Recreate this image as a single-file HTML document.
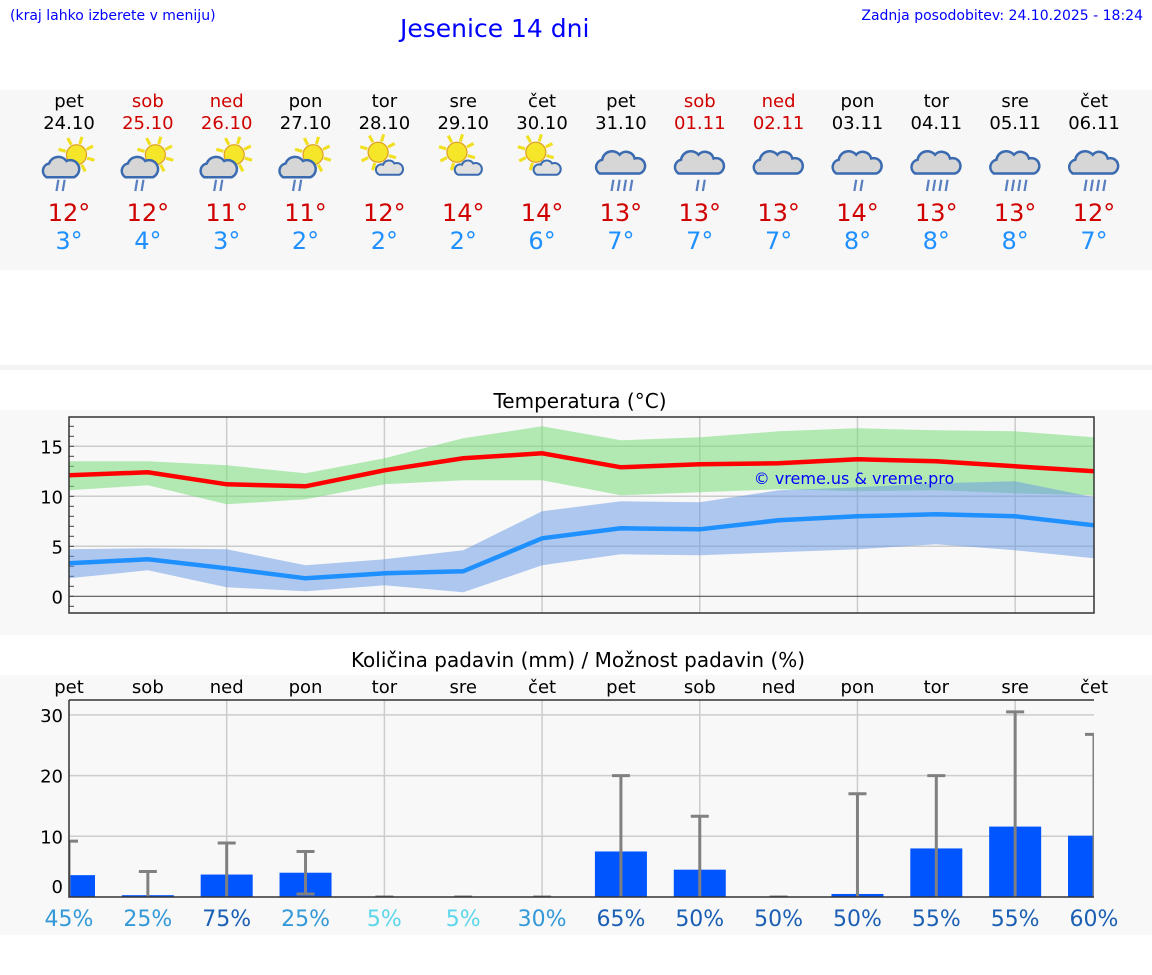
<!DOCTYPE html>
<html><head><meta charset="utf-8">
<style>
body{margin:0;width:1152px;height:975px;background:#fff;font-family:"DejaVu Sans","Liberation Sans",sans-serif;position:relative;overflow:hidden}
.abs{position:absolute}
</style></head>
<body>
<div class="abs" style="left:10px;top:8px;font-size:14px;color:#00f">(kraj lahko izberete v meniju)</div>
<div class="abs" style="left:400px;top:14px;font-size:25px;color:#00f">Jesenice 14 dni</div>
<div class="abs" style="right:9px;top:8px;font-size:14px;color:#00f">Zadnja posodobitev: 24.10.2025 - 18:24</div>
<div class="abs" style="left:0;top:90px;width:1152px;height:180px;background:#f7f7f7"></div>
<div class="abs" style="left:0;top:365px;width:1152px;height:5px;background:#f3f3f3"></div>
<div class="abs" style="left:0;top:410px;width:1152px;height:225px;background:#f8f8f8"></div>
<div class="abs" style="left:0;top:675px;width:1152px;height:260px;background:#f8f8f8"></div>
<svg id="svg" class="abs" style="left:0;top:0" width="1152" height="975"></svg>
<script>
const days=["pet","sob","ned","pon","tor","sre","čet","pet","sob","ned","pon","tor","sre","čet"];
const dates=["24.10","25.10","26.10","27.10","28.10","29.10","30.10","31.10","01.11","02.11","03.11","04.11","05.11","06.11"];
const weekend=[0,1,1,0,0,0,0,0,1,1,0,0,0,0];
const iconType=[0,0,0,0,1,1,1,2,2,3,2,2,2,2];
const iconDrops=[2,2,2,2,0,0,0,4,2,0,2,4,4,4];
const tMax=[12,12,11,11,12,14,14,13,13,13,14,13,13,12];
const tMin=[3,4,3,2,2,2,6,7,7,7,8,8,8,7];
const maxLine=[12.1,12.4,11.2,11.0,12.6,13.8,14.3,12.9,13.2,13.3,13.7,13.5,13.0,12.5];
const maxHi=[13.5,13.5,13.1,12.3,13.8,15.8,17.0,15.6,15.9,16.5,16.8,16.6,16.5,15.9];
const maxLo=[10.6,11.1,9.2,9.7,11.2,11.6,11.6,10.1,10.4,10.7,10.5,10.6,10.3,10.1];
const minLine=[3.3,3.7,2.8,1.8,2.3,2.5,5.8,6.8,6.7,7.6,8.0,8.2,8.0,7.1];
const minHi=[4.7,4.8,4.7,3.1,3.7,4.6,8.5,9.5,9.4,10.6,10.9,11.3,11.5,9.9];
const minLo=[1.8,2.6,0.9,0.5,1.1,0.4,3.1,4.2,4.1,4.4,4.7,5.2,4.6,3.8];
const tempTicks=[0,5,10,15];
const precip=[3.6,0.3,3.7,4.0,0,0,0,7.5,4.5,0,0.5,8.0,11.6,10.1];
const precipMax=[9.2,4.2,8.9,7.5,0,0,0,20,13.3,0,17,20,30.5,26.8];
const precipMin=[0,0,0,0.5,0,0,0,0,0,0,0,0,0,0];
const chance=[45,25,75,25,5,5,30,65,50,50,50,55,55,60];
const precipTicks=[0,10,20,30];

const NS="http://www.w3.org/2000/svg";
const svg=document.getElementById('svg');
function el(tag,attrs,parent){const e=document.createElementNS(NS,tag);for(const k in attrs)e.setAttribute(k,attrs[k]);(parent||svg).appendChild(e);return e;}
function txt(x,y,s,size,fill,anchor){const t=el('text',{x:x,y:y,'font-size':size,fill:fill,'text-anchor':anchor||'middle','font-family':'DejaVu Sans, Liberation Sans, sans-serif'});t.textContent=s;return t;}
const X=i=>69+i*(1094-69)/13;
const TY=v=>596.3-v*10.0;
const PY=v=>897-v*6.07;

for(let i=0;i<14;i++){
  const x=X(i);const col=weekend[i]?'#d00000':'#000';
  let t=txt(x,107,days[i],18,col);
  t=txt(x,129,dates[i],18,col);
  const g=el('g',{transform:`translate(${x},166) scale(1.25)`});
  
  
  const ty=iconType[i];
  if(ty<=1){
    const sx=ty==0?6:-5, sy=ty==0?-9:-11;
    for(let a=0;a<8;a++){const an=a*Math.PI/4+0.3;el('line',{x1:sx+Math.cos(an)*9,y1:sy+Math.sin(an)*9,x2:sx+Math.cos(an)*15,y2:sy+Math.sin(an)*15,stroke:'#f0e020','stroke-width':2.5},g);}
    el('circle',{cx:sx,cy:sy,r:8,fill:'#f5e62a',stroke:'#e0a020','stroke-width':1},g);
  }
  if(ty==0){
    el('path',{d:'M-18,9 a6,6 0 0 1 2,-11 a8,8 0 0 1 14,-2 a6,6 0 0 1 6,13 z',fill:'#d6d6d6',stroke:'#3a6ab0','stroke-width':2},g);
  }else if(ty==1){
    el('path',{d:'M-4,7 a4,4 0 0 1 3,-8 a5,5 0 0 1 9,-1 a4.5,4.5 0 0 1 4,9 z',fill:'#e0e0e0',stroke:'#3a6ab0','stroke-width':1.6},g);
  }else{
    el('path',{d:'M-17,6 a6,6 0 0 1 2,-11 a8,8 0 0 1 14,-4 a7,7 0 0 1 12,3 a6,6 0 0 1 4,12 z',fill:'#d6d6d6',stroke:'#3a6ab0','stroke-width':2},g);
  }
  const nd=iconDrops[i];
  const start=ty==0?-10:-(nd-1)*2.5;
  for(let d=0;d<nd;d++){const dx=start+d*5;el('line',{x1:dx+1.5,y1:11,x2:dx,y2:20,stroke:'#5a7fc0','stroke-width':1.8},g);}
  t=txt(x,221,tMax[i]+'°',24,'#d00000');
  t=txt(x,249,tMin[i]+'°',24,'#1e90ff');
}

let t=txt(580,408,'Temperatura (°C)',20,'#000');
for(let i=2;i<14;i+=2){const l=el('line',{x1:X(i),y1:417,x2:X(i),y2:613,stroke:'#ccc','stroke-width':1.5});}
tempTicks.forEach(v=>{const l=el('line',{x1:69,y1:TY(v),x2:1094,y2:TY(v),stroke:v==0?'#555':'#ccc','stroke-width':v==0?1.2:1.5});
  const tt=txt(63,TY(v)+7,String(v),18,'#000','end');});
for(let v=-1;v<=17;v++){el('line',{x1:69,y1:TY(v),x2:74,y2:TY(v),stroke:'#444','stroke-width':1});}
function band(hi,lo,fill){let d='M'+hi.map((v,i)=>X(i)+','+TY(v)).join(' L')+' L'+lo.map((v,i)=>X(i)+','+TY(v)).reverse().join(' L')+' Z';return el('path',{d:d,fill:fill});}
let b=band(maxHi,maxLo,'rgba(120,220,120,0.55)');
b=band(minHi,minLo,'rgba(100,150,230,0.5)');
let p=el('polyline',{points:maxLine.map((v,i)=>X(i)+','+TY(v)).join(' '),fill:'none',stroke:'#ff0000','stroke-width':4.5});
p=el('polyline',{points:minLine.map((v,i)=>X(i)+','+TY(v)).join(' '),fill:'none',stroke:'#1e90ff','stroke-width':4.5});
let r=el('rect',{x:69,y:417,width:1025,height:196,fill:'none',stroke:'#333','stroke-width':1.5});
t=txt(854,484,'© vreme.us & vreme.pro',16,'#0000ff');

t=txt(578,667,'Količina padavin (mm) / Možnost padavin (%)',20,'#000');
for(let i=0;i<14;i++){const tt=txt(X(i),693,days[i],18,'#000');}
for(let i=2;i<14;i+=2){const l=el('line',{x1:X(i),y1:700,x2:X(i),y2:897,stroke:'#ccc','stroke-width':1.5});}
precipTicks.forEach(v=>{if(v>0){const l=el('line',{x1:69,y1:PY(v),x2:1094,y2:PY(v),stroke:'#ccc','stroke-width':1.5});}
  const tt=txt(63,PY(v)+(v==0?-4:7),String(v),18,'#000','end');});
const clip=el('clipPath',{id:'pc'});el('rect',{x:69,y:690,width:1025,height:207},clip);
const pg=el('g',{'clip-path':'url(#pc)'});
for(let i=0;i<14;i++){
  const x=X(i);
  if(precip[i]>0){const bb=el('rect',{x:x-26,y:PY(precip[i]),width:52,height:PY(0)-PY(precip[i]),fill:'#0055ff'},pg);}
  const w=el('g',{},pg);
  
  
  el('line',{x1:x,y1:PY(precipMin[i]),x2:x,y2:PY(precipMax[i]),stroke:'#808080','stroke-width':3},w);
  el('line',{x1:x-9,y1:PY(precipMax[i]),x2:x+9,y2:PY(precipMax[i]),stroke:'#808080','stroke-width':3},w);
  if(precipMin[i]>0)el('line',{x1:x-9,y1:PY(precipMin[i]),x2:x+9,y2:PY(precipMin[i]),stroke:'#808080','stroke-width':3},w);
  const c=chance[i];const col=c<=5?'#5cd6ea':(c>=50||c==75)?'#1a5fb4':'#3399d8';
  const tt=txt(x,926,c+'%',22,col);
}
r=el('path',{d:'M69,700 L69,897 L1094,897 M69,700 L1094,700',fill:'none',stroke:'#333','stroke-width':1.5});
</script>
</body></html>
